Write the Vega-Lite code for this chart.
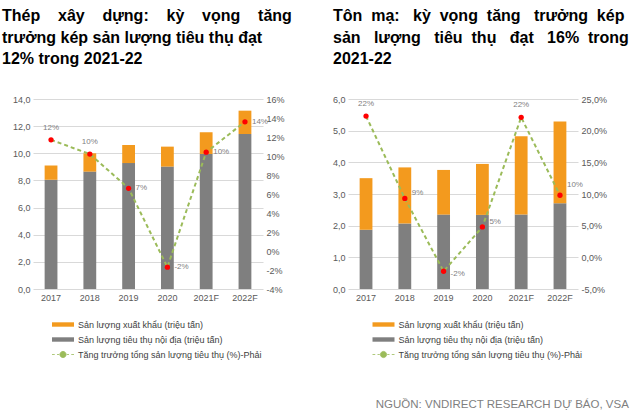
{
  "$schema": "https://vega.github.io/schema/vega-lite/v6.json",
  "background": "white",
  "padding": {"left": 2, "top": 8, "right": 6, "bottom": 4},
  "bounds": "flush",
  "spacing": 85,
  "config": {
    "font": "Liberation Sans",
    "view": {"stroke": null},
    "axis": {"labelFont": "Liberation Sans", "labelFontSize": 9, "labelColor": "#595959", "domain": false, "ticks": false, "title": null},
    "title": {"font": "Liberation Sans", "fontSize": 16, "fontWeight": "bold", "color": "#000000", "anchor": "start", "frame": "group", "lineHeight": 21.5},
    "legend": {"labelFont": "Liberation Sans", "labelFontSize": 9, "labelColor": "#404040", "labelLimit": 400}
  },
  "datasets": {
    "steel_bars": [
      {"year": "2017", "series": "Sản lượng tiêu thụ nội địa (triệu tấn)", "value": 8.05},
      {"year": "2017", "series": "Sản lượng xuất khẩu (triệu tấn)", "value": 1.05},
      {"year": "2018", "series": "Sản lượng tiêu thụ nội địa (triệu tấn)", "value": 8.65},
      {"year": "2018", "series": "Sản lượng xuất khẩu (triệu tấn)", "value": 1.35},
      {"year": "2019", "series": "Sản lượng tiêu thụ nội địa (triệu tấn)", "value": 9.28},
      {"year": "2019", "series": "Sản lượng xuất khẩu (triệu tấn)", "value": 1.33},
      {"year": "2020", "series": "Sản lượng tiêu thụ nội địa (triệu tấn)", "value": 9.02},
      {"year": "2020", "series": "Sản lượng xuất khẩu (triệu tấn)", "value": 1.47},
      {"year": "2021F", "series": "Sản lượng tiêu thụ nội địa (triệu tấn)", "value": 9.95},
      {"year": "2021F", "series": "Sản lượng xuất khẩu (triệu tấn)", "value": 1.6},
      {"year": "2022F", "series": "Sản lượng tiêu thụ nội địa (triệu tấn)", "value": 11.42},
      {"year": "2022F", "series": "Sản lượng xuất khẩu (triệu tấn)", "value": 1.72}
    ],
    "steel_growth": [
      {"year": "2017", "growth": 11.7, "label": "12%"},
      {"year": "2018", "growth": 10.2, "label": "10%"},
      {"year": "2019", "growth": 6.6, "label": "7%"},
      {"year": "2020", "growth": -1.7, "label": "-2%"},
      {"year": "2021F", "growth": 10.4, "label": "10%"},
      {"year": "2022F", "growth": 13.6, "label": "14%"}
    ],
    "ton_bars": [
      {"year": "2017", "series": "Sản lượng tiêu thụ nội địa (triệu tấn)", "value": 1.87},
      {"year": "2017", "series": "Sản lượng xuất khẩu (triệu tấn)", "value": 1.63},
      {"year": "2018", "series": "Sản lượng tiêu thụ nội địa (triệu tấn)", "value": 2.07},
      {"year": "2018", "series": "Sản lượng xuất khẩu (triệu tấn)", "value": 1.77},
      {"year": "2019", "series": "Sản lượng tiêu thụ nội địa (triệu tấn)", "value": 2.35},
      {"year": "2019", "series": "Sản lượng xuất khẩu (triệu tấn)", "value": 1.41},
      {"year": "2020", "series": "Sản lượng tiêu thụ nội địa (triệu tấn)", "value": 2.34},
      {"year": "2020", "series": "Sản lượng xuất khẩu (triệu tấn)", "value": 1.61},
      {"year": "2021F", "series": "Sản lượng tiêu thụ nội địa (triệu tấn)", "value": 2.35},
      {"year": "2021F", "series": "Sản lượng xuất khẩu (triệu tấn)", "value": 2.47},
      {"year": "2022F", "series": "Sản lượng tiêu thụ nội địa (triệu tấn)", "value": 2.71},
      {"year": "2022F", "series": "Sản lượng xuất khẩu (triệu tấn)", "value": 2.58}
    ],
    "ton_growth": [
      {"year": "2017", "growth": 22.3, "label": "22%"},
      {"year": "2018", "growth": 9.3, "label": "9%"},
      {"year": "2019", "growth": -2.2, "label": "-2%"},
      {"year": "2020", "growth": 4.8, "label": "5%"},
      {"year": "2021F", "growth": 22.1, "label": "22%"},
      {"year": "2022F", "growth": 9.8, "label": "10%"}
    ]
  },
  "title": {"text": "NGUỒN: VNDIRECT RESEARCH DỰ BÁO, VSA", "orient": "bottom", "anchor": "end", "frame": "bounds", "fontSize": 11.5, "fontWeight": "normal", "color": "#7f7f7f", "offset": 39},
  "resolve": {"scale": {"color": "independent"}, "legend": {"color": "independent"}},
  "hconcat": [
    {
      "width": 230,
      "height": 190,
      "title": {"text": ["Thép \u00a0\u00a0\u00a0xây \u00a0\u00a0\u00a0dựng: \u00a0\u00a0\u00a0kỳ \u00a0\u00a0\u00a0vọng \u00a0\u00a0\u00a0tăng", "trưởng kép sản lượng tiêu thụ đạt", "12% trong 2021-22"], "dx": -31, "offset": 28},
      "layer": [
        {
          "data": {"name": "steel_bars"},
          "mark": {"type": "bar"},
          "encoding": {
            "x": {"field": "year", "type": "ordinal", "sort": null, "scale": {"paddingInner": 0.67, "paddingOuter": 0.3}, "axis": {"labelAngle": 0, "labelPadding": 4}},
            "y": {"field": "value", "type": "quantitative", "stack": "zero", "scale": {"domain": [0, 14], "nice": false}, "axis": {"values": [0, 2, 4, 6, 8, 10, 12, 14], "grid": true, "gridColor": "#d9d9d9", "labelPadding": 3, "labelExpr": "replace(format(datum.value,'.1f'),'.',',')"}},
            "color": {
              "field": "series", "type": "nominal",
              "scale": {"domain": ["Sản lượng xuất khẩu (triệu tấn)", "Sản lượng tiêu thụ nội địa (triệu tấn)", "Tăng trưởng tổng sản lượng tiêu thụ (%)-Phải"], "range": ["#F39A1E", "#7F7F7F", "#9BBB59"]},
              "legend": {
                "orient": "none", "legendX": 24.5, "legendY": 220, "direction": "vertical", "title": null,
                "symbolSize": 100, "rowPadding": 4, "labelOffset": 9.5, "padding": 0,
                "encode": {"symbols": {"update": {
                  "shape": {"signal": "indexof(datum.value,'Tăng')===0 ? 'M-2.2,0H-1.65M-1.2,0H-0.75M0.75,0H1.2M1.65,0H2.2M-0.62,0A0.62,0.62,0,1,1,0.62,0A0.62,0.62,0,1,1,-0.62,0Z' : 'M-2.2,-0.44H2.2V0.44H-2.2Z'"},
                  "fill": {"signal": "indexof(datum.value,'Tăng')===0 ? '#FF0000' : (indexof(datum.value,'xuất')>0 ? '#F39A1E' : '#7F7F7F')"},
                  "stroke": {"signal": "indexof(datum.value,'Tăng')===0 ? '#9BBB59' : 'transparent'"},
                  "strokeWidth": {"value": 0.8},
                  "opacity": {"value": 1}
                }}}
              }
            },
            "order": {"field": "series", "sort": "ascending"}
          }
        },
        {
          "data": {"name": "steel_growth"},
          "encoding": {
            "x": {"field": "year", "type": "ordinal", "sort": null},
            "y": {"field": "growth", "type": "quantitative", "scale": {"domain": [-4, 16], "nice": false}, "axis": {"orient": "right", "values": [-4, -2, 0, 2, 4, 6, 8, 10, 12, 14, 16], "grid": false, "labelPadding": 3, "labelExpr": "datum.value + '%'"}}
          },
          "layer": [
            {"mark": {"type": "line", "color": "#9BBB59", "strokeWidth": 2, "strokeDash": [4, 3]}},
            {"mark": {"type": "point", "filled": true, "color": "#FF0000", "size": 28, "opacity": 1}},
            {"transform": [{"filter": "datum.year == '2017' || datum.year == '2018'"}], "mark": {"type": "text", "dy": -12, "fontSize": 8, "color": "#7f7f7f"}, "encoding": {"text": {"field": "label"}}},
            {"transform": [{"filter": "datum.year != '2017' && datum.year != '2018'"}], "mark": {"type": "text", "dx": 7, "align": "left", "fontSize": 8, "color": "#7f7f7f"}, "encoding": {"text": {"field": "label"}}}
          ]
        }
      ],
      "resolve": {"scale": {"y": "independent"}}
    },
    {
      "width": 230,
      "height": 190,
      "title": {"text": ["Tôn \u00a0mạ: \u00a0\u00a0kỳ \u00a0vọng \u00a0tăng \u00a0\u00a0trưởng \u00a0kép", "sản \u00a0\u00a0lượng \u00a0\u00a0tiêu \u00a0thụ \u00a0\u00a0đạt \u00a0\u00a016% \u00a0trong", "2021-22"], "dx": -15, "offset": 28},
      "layer": [
        {
          "data": {"name": "ton_bars"},
          "mark": {"type": "bar"},
          "encoding": {
            "x": {"field": "year", "type": "ordinal", "sort": null, "scale": {"paddingInner": 0.67, "paddingOuter": 0.3}, "axis": {"labelAngle": 0, "labelPadding": 4}},
            "y": {"field": "value", "type": "quantitative", "stack": "zero", "scale": {"domain": [0, 6], "nice": false}, "axis": {"values": [0, 1, 2, 3, 4, 5, 6], "grid": true, "gridColor": "#d9d9d9", "labelPadding": 3, "labelExpr": "replace(format(datum.value,'.1f'),'.',',')"}},
            "color": {
              "field": "series", "type": "nominal",
              "scale": {"domain": ["Sản lượng xuất khẩu (triệu tấn)", "Sản lượng tiêu thụ nội địa (triệu tấn)", "Tăng trưởng tổng sản lượng tiêu thụ (%)-Phải"], "range": ["#F39A1E", "#7F7F7F", "#9BBB59"]},
              "legend": {
                "orient": "none", "legendX": 30, "legendY": 220, "direction": "vertical", "title": null,
                "symbolSize": 100, "rowPadding": 4, "labelOffset": 9.5, "padding": 0,
                "encode": {"symbols": {"update": {
                  "shape": {"signal": "indexof(datum.value,'Tăng')===0 ? 'M-2.2,0H-1.65M-1.2,0H-0.75M0.75,0H1.2M1.65,0H2.2M-0.62,0A0.62,0.62,0,1,1,0.62,0A0.62,0.62,0,1,1,-0.62,0Z' : 'M-2.2,-0.44H2.2V0.44H-2.2Z'"},
                  "fill": {"signal": "indexof(datum.value,'Tăng')===0 ? '#FF0000' : (indexof(datum.value,'xuất')>0 ? '#F39A1E' : '#7F7F7F')"},
                  "stroke": {"signal": "indexof(datum.value,'Tăng')===0 ? '#9BBB59' : 'transparent'"},
                  "strokeWidth": {"value": 0.8},
                  "opacity": {"value": 1}
                }}}
              }
            },
            "order": {"field": "series", "sort": "ascending"}
          }
        },
        {
          "data": {"name": "ton_growth"},
          "encoding": {
            "x": {"field": "year", "type": "ordinal", "sort": null},
            "y": {"field": "growth", "type": "quantitative", "scale": {"domain": [-5, 25], "nice": false}, "axis": {"orient": "right", "values": [-5, 0, 5, 10, 15, 20, 25], "grid": false, "labelPadding": 3, "labelExpr": "(datum.value < 0 ? '-' : '') + replace(format(abs(datum.value),'.1f'),'.',',') + '%'"}}
          },
          "layer": [
            {"mark": {"type": "line", "color": "#9BBB59", "strokeWidth": 2, "strokeDash": [4, 3]}},
            {"mark": {"type": "point", "filled": true, "color": "#FF0000", "size": 28, "opacity": 1}},
            {"transform": [{"filter": "datum.year == '2017' || datum.year == '2021F'"}], "mark": {"type": "text", "dy": -12, "fontSize": 8, "color": "#7f7f7f"}, "encoding": {"text": {"field": "label"}}},
            {"transform": [{"filter": "datum.year == '2018' || datum.year == '2020'"}], "mark": {"type": "text", "dx": 7, "dy": -5, "align": "left", "fontSize": 8, "color": "#7f7f7f"}, "encoding": {"text": {"field": "label"}}},
            {"transform": [{"filter": "datum.year == '2019'"}], "mark": {"type": "text", "dx": 7, "dy": 3, "align": "left", "fontSize": 8, "color": "#7f7f7f"}, "encoding": {"text": {"field": "label"}}},
            {"transform": [{"filter": "datum.year == '2022F'"}], "mark": {"type": "text", "dx": 7, "dy": -10, "align": "left", "fontSize": 8, "color": "#7f7f7f"}, "encoding": {"text": {"field": "label"}}}
          ]
        }
      ],
      "resolve": {"scale": {"y": "independent"}}
    }
  ]
}
